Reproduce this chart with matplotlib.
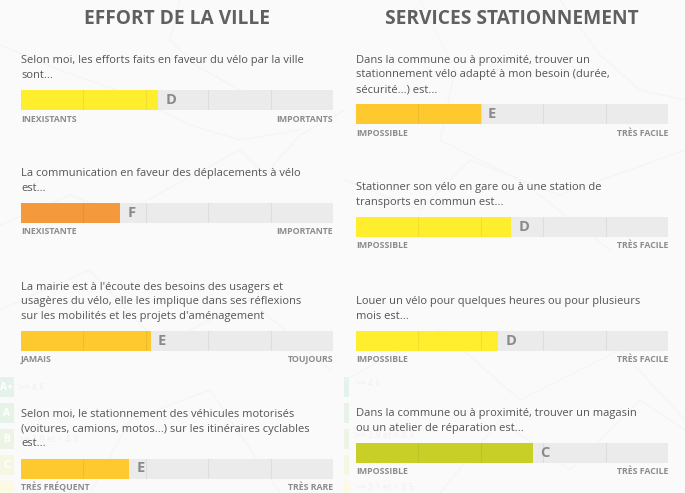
import matplotlib
matplotlib.use("Agg")
import matplotlib.pyplot as plt
from matplotlib.patches import Rectangle

W, H = 685, 493
BG = "#fafafa"
plt.rcParams['font.family'] = ['Open Sans', 'DejaVu Sans']

titles = ["EFFORT DE LA VILLE", "SERVICES STATIONNEMENT"]
questions_left = [
    "Selon moi, les efforts faits en faveur du vélo par la ville\nsont...",
    "La communication en faveur des déplacements à vélo\nest...",
    "La mairie est à l'écoute des besoins des usagers et\nusagères du vélo, elle les implique dans ses réflexions\nsur les mobilités et les projets d'aménagement",
    "Selon moi, le stationnement des véhicules motorisés\n(voitures, camions, motos...) sur les itinéraires cyclables\nest...",
]
questions_right = [
    "Dans la commune ou à proximité, trouver un\nstationnement vélo adapté à mon besoin (durée,\nsécurité...) est...",
    "Stationner son vélo en gare ou à une station de\ntransports en commun est...",
    "Louer un vélo pour quelques heures ou pour plusieurs\nmois est...",
    "Dans la commune ou à proximité, trouver un magasin\nou un atelier de réparation est...",
]
values_left = [3.2, 2.59, 3.08, 2.73]
values_right = [3.0, 3.49, 3.28, 3.83]
grades_left = ["D", "F", "E", "E"]
grades_right = ["E", "D", "D", "C"]
low_left = ["INEXISTANTS", "INEXISTANTE", "JAMAIS", "TRÈS FRÉQUENT"]
high_left = ["IMPORTANTS", "IMPORTANTE", "TOUJOURS", "TRÈS RARE"]
low_right = ["IMPOSSIBLE"] * 4
high_right = ["TRÈS FACILE"] * 4
grade_colors = {"C": "#c8d027", "D": "#ffee2e", "E": "#fdc92e", "F": "#f59a3c"}

bar_top_left = [90, 203, 331, 458.5]
bar_top_right = [104, 217, 331, 443]
COL_X = [21, 356]
BAR_W = 312
BAR_H = 20
ticks = [2, 3, 4, 5, 6]

fig = plt.figure(figsize=(W / 100, H / 100), dpi=100, facecolor=BG)

# faint backdrop: a map and a legend of grades, washed out
bgax = fig.add_axes([0, 0, 1, 1], zorder=0)
bgax.set_xlim(0, W); bgax.set_ylim(H, 0); bgax.axis("off")
map_lines = [
    ([0, 60, 130, 190, 240, 300], [45, 70, 95, 125, 140, 130]),
    ([240, 265, 300, 345], [150, 175, 135, 110]),
    ([180, 170, 195, 240], [0, 40, 65, 90]),
    ([0, 70, 120, 175, 240], [225, 195, 215, 185, 150]),
    ([345, 420, 470, 560, 685], [180, 210, 160, 195, 150]),
    ([420, 455, 440, 520, 610], [0, 70, 140, 180, 250]),
    ([560, 600, 640, 685], [0, 55, 90, 100]),
    ([0, 90, 160, 250, 330], [310, 270, 345, 300, 370]),
    ([345, 440, 520, 620, 685], [380, 330, 400, 350, 420]),
    ([90, 130, 210, 280], [493, 420, 390, 493]),
    ([440, 500, 570, 640, 685], [493, 420, 470, 400, 430]),
]
for xs, ys in map_lines:
    bgax.plot(xs, ys, color="#f5f5f5", lw=1, solid_capstyle="round")

legend_cols = ["#e4f2ec", "#e8f3e8", "#ecf4e6", "#f6f7e2", "#fdfae2"]
legend_tops = [377, 403, 429, 455, 481]
legend_labels = [">= 4.6", "", ">= 3.9 et < 4.3", "", ""]
legend_marks = ["A+", "A", "B", "C", ""]
for c, t, lab, m in zip(legend_cols, legend_tops, legend_labels, legend_marks):
    bgax.add_patch(Rectangle((-2, t), 16, 20, fc=c, ec="none"))
    bgax.text(7, t + 10, m, color="#ffffff", fontsize=7.5, fontweight="bold", ha="center", va="center")
    if lab:
        bgax.text(19, t + 10, lab, color="#f0f0f0", fontsize=6.5, va="center")
right_labels = [">= 4.6", "", ">= 3.9 et < 4.3", ">= 3.5 et < 3.9", ">= 3.1 et < 3.5"]
for c, t, lab in zip(legend_cols, legend_tops, right_labels):
    bgax.add_patch(Rectangle((344, t), 5, 20, fc=c, ec="none"))
    if lab:
        bgax.text(355, t + 6, lab, color="#f0f0f0", fontsize=6.5, va="center")


def px_text(x, y, s, **kw):
    fig.text(x / W, 1 - y / H, s, **kw)


def draw_column(x0, tops, questions, values, grades, lows, highs):
    for top, q, v, g, lo, hi in zip(tops, questions, values, grades, lows, highs):
        ax = fig.add_axes([x0 / W, 1 - (top + BAR_H) / H, BAR_W / W, BAR_H / H], zorder=2)
        ax.set_xlim(1, 6); ax.set_ylim(0, 1); ax.axis("off")
        ax.barh(0.5, 5, left=1, height=1, color="#ebebeb", zorder=1)
        ax.barh(0.5, v - 1, left=1, height=1, color=grade_colors[g], zorder=2)
        for t in ticks:
            ax.axvline(t, color="#000000", alpha=0.06, lw=0.8, zorder=3)
        ax.annotate(g, (v, 0.5), xytext=(5.2, 0), textcoords="offset points", fontsize=10.5,
                    fontweight="bold", color="#8a8a8a", va="center", ha="left", zorder=4)
        px_text(x0, top - 9, q, fontsize=8.05, color="#555555", va="bottom", ha="left", linespacing=1.46, zorder=5)
        px_text(x0, top + BAR_H + 9, lo, fontsize=6.3, fontweight="bold", color="#8c8c8c", va="center", ha="left")
        px_text(x0 + BAR_W, top + BAR_H + 9, hi, fontsize=6.3, fontweight="bold", color="#8c8c8c", va="center", ha="right")


draw_column(COL_X[0], bar_top_left, questions_left, values_left, grades_left, low_left, high_left)
draw_column(COL_X[1], bar_top_right, questions_right, values_right, grades_right, low_right, high_right)

px_text(177, 19.5, titles[0], fontsize=13.75, fontweight="bold", color="#606060", ha="center", va="center")
px_text(512, 18.5, titles[1], fontsize=13.75, fontweight="bold", color="#606060", ha="center", va="center")

fig.savefig("out.png", dpi=100, facecolor=BG)
